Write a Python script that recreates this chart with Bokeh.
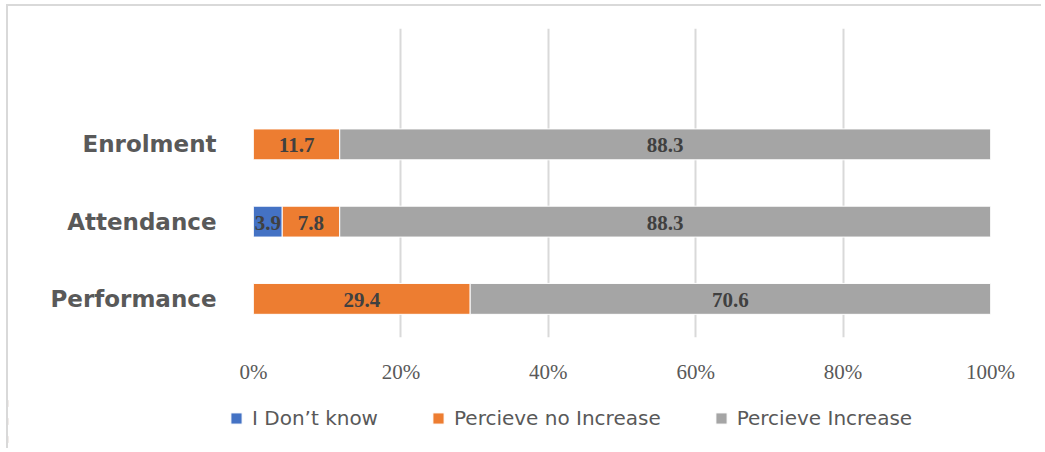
from bokeh.plotting import figure
from bokeh.models import (ColumnDataSource, FactorRange, Range1d, FixedTicker,
                          PrintfTickFormatter, LabelSet, Legend, LegendItem)
from bokeh.embed import file_html
from bokeh.resources import INLINE

categories = ["Performance", "Attendance", "Enrolment"]
series_names = ["I Don\u2019t know", "Percieve no Increase", "Percieve Increase"]
dont_know = [0.0, 3.9, 0.0]
no_increase = [29.4, 7.8, 11.7]
increase = [70.6, 88.3, 88.3]
colors = ["#4472C4", "#ED7D31", "#A5A5A5"]
x_ticks = [0, 20, 40, 60, 80, 100]

keys = ["dk", "ni", "inc"]
source = ColumnDataSource(data=dict(cat=categories, dk=dont_know, ni=no_increase, inc=increase))

p = figure(width=1035, height=390, output_backend="svg", toolbar_location=None,
           y_range=FactorRange(factors=categories + [" "], range_padding=0),
           x_range=Range1d(0, 100),
           min_border_left=245, min_border_right=53, min_border_top=22, min_border_bottom=59)

renderers = p.hbar_stack(keys, y="cat", height=0.4, color=colors, source=source,
                         line_color="white", line_width=1)

# labels
lx, ly, lt = [], [], []
for ci, c in enumerate(categories):
    start = 0.0
    for arr in (dont_know, no_increase, increase):
        v = arr[ci]
        if v > 0:
            lx.append(start + v / 2)
            ly.append(c)
            lt.append(f"{v:.1f}")
        start += v
lsrc = ColumnDataSource(data=dict(x=lx, y=ly, t=lt))
labels = LabelSet(x="x", y="y", text="t", source=lsrc, text_align="center", text_baseline="middle",
                  text_font="Liberation Serif", text_font_style="bold", text_font_size="21px",
                  text_color="#404040", y_offset=-1)
p.add_layout(labels)

p.xaxis.ticker = FixedTicker(ticks=x_ticks)
p.xaxis.formatter = PrintfTickFormatter(format="%d%%")
p.xaxis.axis_line_color = None
p.xaxis.major_tick_line_color = None
p.xaxis.minor_tick_line_color = None
p.xaxis.major_tick_out = 0
p.xaxis.major_tick_in = 0
p.xaxis.major_label_standoff = 22
p.xaxis.major_label_text_font = "Liberation Serif"
p.xaxis.major_label_text_font_size = "21px"
p.xaxis.major_label_text_color = "#595959"

p.yaxis.axis_line_color = None
p.yaxis.major_tick_line_color = None
p.yaxis.minor_tick_line_color = None
p.yaxis.major_tick_out = 0
p.yaxis.major_tick_in = 0
p.yaxis.major_label_standoff = 37
p.yaxis.major_label_text_font = "DejaVu Sans"
p.yaxis.major_label_text_font_style = "bold"
p.yaxis.major_label_text_font_size = "23px"
p.yaxis.major_label_text_color = "#595959"

p.xgrid.ticker = FixedTicker(ticks=x_ticks)
p.xgrid.grid_line_color = "#D9D9D9"
p.xgrid.grid_line_width = 2
p.ygrid.grid_line_color = None
p.outline_line_color = None
p.styles = {"margin-left": "6px", "margin-top": "4px",
            "border-left": "2px solid #D9D9D9", "border-top": "2px solid #D9D9D9"}

# legend strip (same series, drawn outside its visible range so only the legend shows)
pl = figure(width=1035, height=54, output_backend="svg", toolbar_location=None,
            y_range=FactorRange(factors=categories), x_range=Range1d(5000, 5100),
            x_axis_type=None, y_axis_type=None,
            min_border_left=0, min_border_right=0, min_border_top=0, min_border_bottom=0)
pl.grid.grid_line_color = None
pl.outline_line_color = None
lrend = pl.hbar_stack(keys, y="cat", height=0.4, color=colors, source=source,
                      line_color="white", line_width=1)
lg = Legend(items=[LegendItem(label=series_names[i], renderers=[r]) for i, r in enumerate(lrend)],
            location=(221, 18), orientation="horizontal",
            glyph_width=14, glyph_height=14, label_standoff=9, spacing=53,
            label_text_font="DejaVu Sans", label_text_font_size="20px",
            label_text_color="#595959", padding=0, margin=0,
            border_line_color=None, background_fill_alpha=0)
pl.add_layout(lg)
pl.styles = {"margin-left": "6px", "border-left": "2px solid #D9D9D9"}

open("out.html", "w").write(file_html([p, pl], INLINE))
